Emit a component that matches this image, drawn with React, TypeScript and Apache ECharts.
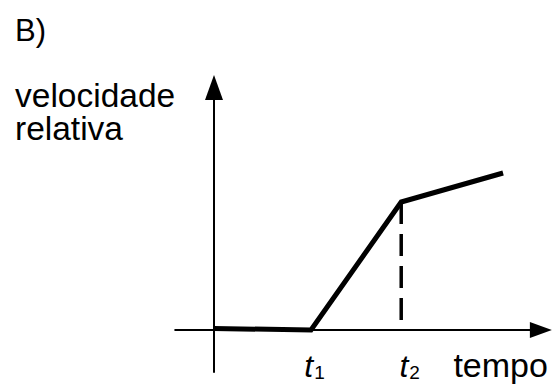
import React, { useEffect, useRef } from "react";
import * as echarts from "echarts";

// time instants (arbitrary units) and the relative speed at each breakpoint
const times = [0, 10, 19.3, 29.8];
const speeds = [0.15, 0, 12.8, 15.7];
const T1 = 10;
const T2 = 19.3;
const tickMarks = [T1, T2];
const tickNames = ["1", "2"];

const FONT = "'Liberation Sans', Arial, sans-serif";

export default function App() {
  const ref = useRef<HTMLDivElement>(null);

  useEffect(() => {
    if (!ref.current) return;
    const chart = echarts.init(ref.current, null, { renderer: "svg" });

    const curve = times.map((t, i) => [t, speeds[i]]);
    const t2Speed = speeds[times.indexOf(T2)];

    chart.setOption({
      animation: false,
      backgroundColor: "#fff",
      title: {
        text: "B)",
        left: 15,
        top: 15,
        padding: 0,
        textStyle: { fontFamily: FONT, fontSize: 31, fontWeight: "normal", color: "#000" },
      },
      grid: { left: 175.2, top: 87.5, width: 365.7, height: 284.5, outerBoundsMode: "none", containLabel: false },
      xAxis: {
        type: "value",
        min: -4,
        max: 33.7,
        name: "tempo",
        nameLocation: "end",
        nameGap: 7,
        nameTextStyle: {
          fontFamily: FONT,
          fontSize: 34,
          lineHeight: 34,
          color: "#000",
          align: "right",
          verticalAlign: "top",
          padding: [18, 0, 0, 0],
        },
        splitLine: { show: false },
        axisTick: { show: false },
        axisLine: {
          onZero: true,
          symbol: ["none", "triangle"],
          symbolSize: [16, 22],
          lineStyle: { color: "#000", width: 2 },
        },
        axisLabel: {
          customValues: tickMarks,
          // labels are laid out from the grid's bottom edge, so pull them up to the zero line
          margin: -22,
          hideOverlap: false,
          formatter: (v: number) => {
            const i = tickMarks.indexOf(v);
            return i === 0 ? `{a|t}{s|${tickNames[i]}}` : `{b|t}{s|${tickNames[i]}}`;
          },
          rich: {
            a: { fontFamily: FONT, fontStyle: "italic", fontSize: 32, lineHeight: 32, color: "#000", verticalAlign: "top", padding: [0, 0, 0, 7] },
            b: { fontFamily: FONT, fontStyle: "italic", fontSize: 32, lineHeight: 32, color: "#000", verticalAlign: "top", padding: [0, 0, 0, 17] },
            s: { fontFamily: FONT, fontSize: 19, lineHeight: 19, color: "#000", verticalAlign: "bottom", padding: [34, 0, 0, 1] },
          },
        },
      },
      yAxis: {
        type: "value",
        min: -4.2,
        max: 24.25,
        splitLine: { show: false },
        axisTick: { show: false },
        axisLabel: { show: false },
        axisLine: {
          onZero: true,
          symbol: ["none", "triangle"],
          symbolSize: [18, 25],
          lineStyle: { color: "#000", width: 2 },
        },
      },
      graphic: [
        {
          type: "text",
          left: 15,
          top: 78,
          style: {
            text: "velocidade\nrelativa",
            fontFamily: FONT,
            fontSize: 33.5,
            lineHeight: 33,
            fill: "#000",
          },
        },
      ],
      series: [
        {
          type: "line",
          data: curve,
          symbol: "none",
          lineStyle: { color: "#000", width: 5, join: "miter", cap: "butt" },
          z: 3,
        },
        {
          type: "line",
          data: [
            [T2, t2Speed],
            [T2, 0],
          ],
          symbol: "none",
          lineStyle: { color: "#000", width: 3.5, type: [22, 10], cap: "butt" },
          z: 2,
        },
      ],
    });

    return () => chart.dispose();
  }, []);

  return <div ref={ref} style={{ width: 554, height: 385, position: "fixed", left: 0, top: 0 }} />;
}
